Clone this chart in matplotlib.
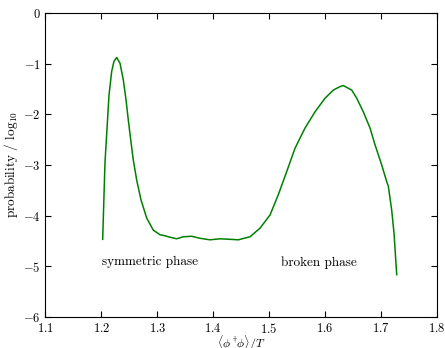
import numpy as np
import matplotlib
matplotlib.use("Agg")
import matplotlib.pyplot as plt

# <phi^dagger phi>/T and log10 probability
x = [1.2024, 1.2065, 1.2137, 1.2185, 1.2226, 1.2275, 1.2334, 1.2393,
     1.2441, 1.2482, 1.2525, 1.2571, 1.2632, 1.2709, 1.2811, 1.2929,
     1.3049, 1.3138, 1.3197, 1.3347, 1.3465, 1.3615, 1.3764, 1.3942,
     1.4121, 1.4300, 1.4448, 1.4658, 1.4836, 1.5015, 1.5163, 1.5314,
     1.5462, 1.5641, 1.5820, 1.5999, 1.6147, 1.6267, 1.6325, 1.6476,
     1.6565, 1.6683, 1.6803, 1.6892, 1.7012, 1.7101, 1.7130, 1.7190,
     1.7232, 1.7280]
logp = [-4.47, -2.96, -1.62, -1.15, -0.95, -0.875, -0.99, -1.32,
        -1.71, -2.11, -2.50, -2.90, -3.30, -3.69, -4.05, -4.29,
        -4.38, -4.40, -4.42, -4.46, -4.42, -4.41, -4.45, -4.48,
        -4.46, -4.47, -4.48, -4.42, -4.25, -3.99, -3.59, -3.13,
        -2.67, -2.27, -1.95, -1.68, -1.52, -1.45, -1.43, -1.52,
        -1.68, -1.95, -2.27, -2.60, -3.00, -3.33, -3.42, -3.89,
        -4.35, -5.17]

xticks = [1.1, 1.2, 1.3, 1.4, 1.5, 1.6, 1.7, 1.8]
yticks = [-6, -5, -4, -3, -2, -1, 0]

plt.rcParams['font.family'] = 'cmr10'
plt.rcParams['mathtext.fontset'] = 'cm'
plt.rcParams['axes.formatter.use_mathtext'] = True
plt.rcParams['font.size'] = 9

fig = plt.figure(figsize=(4.45, 3.48), dpi=100)
ax = fig.add_axes([0.102, 0.090, 0.880, 0.872])

ax.plot(x, logp, color='green', linewidth=1.1)

ax.set_xlim(1.1, 1.8)
ax.set_ylim(-6, 0)
ax.set_xticks(xticks)
ax.set_yticks(yticks)
ax.tick_params(direction='in', top=True, right=True, length=4, width=0.8)

ax.set_xlabel(r'$\langle\phi^\dagger\!\phi\rangle/T$', fontsize=8.5, labelpad=-1.5)
ax.set_ylabel(r'probability / $\log_{10}$', fontsize=9.5, labelpad=2)

ax.text(1.201, -4.91, 'symmetric phase', fontsize=9.5, ha='left', va='center')
ax.text(1.5206, -4.93, 'broken phase', fontsize=9.5, ha='left', va='center')

fig.savefig('out.png', dpi=100)
